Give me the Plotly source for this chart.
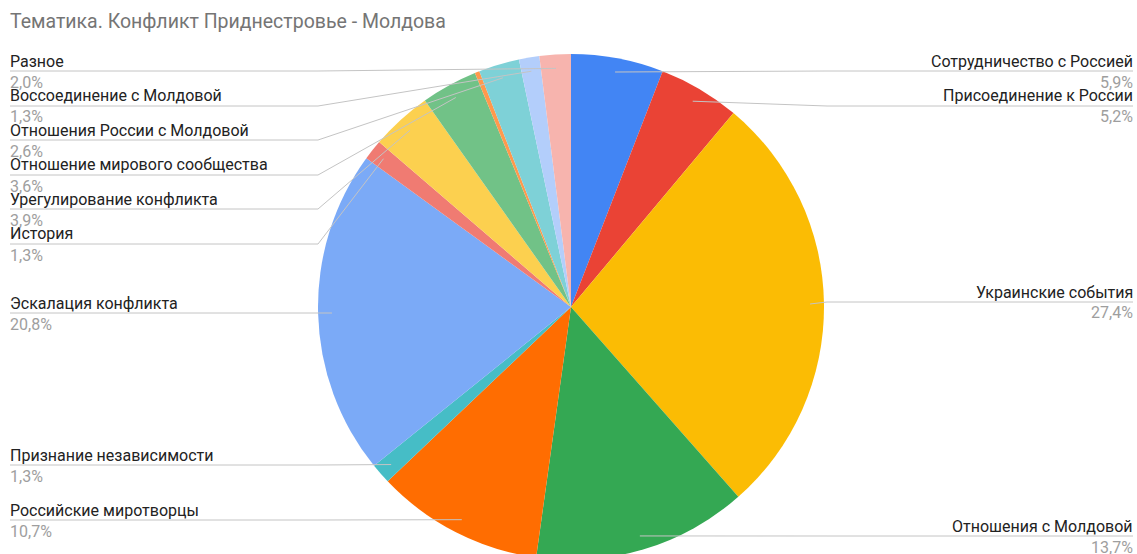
import math
import plotly.graph_objects as go

# ---- data ----
labels = [
    "Сотрудничество с Россией",
    "Присоединение к России",
    "Украинские события",
    "Отношения с Молдовой",
    "Российские миротворцы",
    "Признание независимости",
    "Эскалация конфликта",
    "История",
    "Урегулирование конфликта",
    "Отношение мирового сообщества",
    "Другое",
    "Отношения России с Молдовой",
    "Воссоединение с Молдовой",
    "Разное",
]
values = [5.9, 5.2, 27.4, 13.7, 10.7, 1.3, 20.8, 1.3, 3.9, 3.6, 0.3, 2.6, 1.3, 2.0]
title_text = "Тематика. Конфликт Приднестровье - Молдова"

# ---- styles / layout ----
colors = ["#4285F4", "#EA4335", "#FBBC04", "#34A853", "#FF6D01", "#46BDC6",
          "#7BAAF7", "#F07B72", "#FCD04F", "#71C287", "#FF994D", "#7ED1D7",
          "#B3CEFB", "#F7B4AE"]

# label placement: side and y (px) of the label underline
label_pos = {
    "Сотрудничество с Россией": ("right", 71),
    "Присоединение к России": ("right", 106),
    "Украинские события": ("right", 302),
    "Отношения с Молдовой": ("right", 536),
    "Российские миротворцы": ("left", 520),
    "Признание независимости": ("left", 465),
    "Эскалация конфликта": ("left", 313),
    "История": ("left", 244),
    "Урегулирование конфликта": ("left", 209),
    "Отношение мирового сообщества": ("left", 175),
    "Отношения России с Молдовой": ("left", 140),
    "Воссоединение с Молдовой": ("left", 106),
    "Разное": ("left", 71),
}

# the reference picture is cropped at the bottom: the figure is a bit taller
# than the 554 px window, so the lowest few pixels of the pie fall outside it
W, H = 1137, 560
MT, MB, ML, MR = 54, 0, 0, 0
DOM_X = [0.0044, 1.0]
PH = H - MT - MB
PW = W - ML - MR

cx = ML + PW * (DOM_X[0] + DOM_X[1]) / 2
cy = MT + PH / 2
R = min(PW * (DOM_X[1] - DOM_X[0]), PH) / 2
ANCHOR_R = 0.945 * R

LEFT_X, RIGHT_X = 10, 1133
LEFT_ELBOW, RIGHT_ELBOW = 318, 827
LINE_COLOR = "#c4c4c4"
NAME_COLOR = "#222222"
PCT_COLOR = "#9e9e9e"
FONT = "Roboto, Arial, sans-serif"


def fx(x):
    return (x - ML) / PW


def fy(y):
    return (H - MB - y) / PH


fig = go.Figure()
fig.add_trace(go.Pie(
    labels=labels,
    values=values,
    sort=False,
    direction="clockwise",
    rotation=0,
    marker=dict(colors=colors, line=dict(width=0)),
    textinfo="none",
    hoverinfo="label+percent",
    domain=dict(x=DOM_X, y=[0, 1]),
    showlegend=False,
))

shapes = []
annotations = []
total = sum(values)
cum = 0.0
for lab, v in zip(labels, values):
    mid = (cum + v / 2) / total * 2 * math.pi
    cum += v
    if lab not in label_pos:
        continue
    side, ly = label_pos[lab]
    ax = cx + ANCHOR_R * math.sin(mid)
    ay = cy - ANCHOR_R * math.cos(mid)
    if side == "left":
        ex, end = LEFT_ELBOW, LEFT_X
        xanchor = "left"
    else:
        ex, end = RIGHT_ELBOW, RIGHT_X
        xanchor = "right"
    path = f"M {fx(ax)},{fy(ay)} L {fx(ex)},{fy(ly)} L {fx(end)},{fy(ly)}"
    shapes.append(dict(type="path", xref="paper", yref="paper", path=path,
                       line=dict(color=LINE_COLOR, width=1)))
    pct = f"{v / total * 100:.1f}".replace(".", ",") + "%"
    annotations.append(dict(x=fx(end), y=fy(ly - 10), xref="paper", yref="paper",
                            text=lab, showarrow=False, xanchor=xanchor, yanchor="middle",
                            xshift=(-2 if side == "left" else 2),
                            font=dict(family=FONT, size=16, color=NAME_COLOR)))
    annotations.append(dict(x=fx(end), y=fy(ly + 11), xref="paper", yref="paper",
                            text=pct, showarrow=False, xanchor=xanchor, yanchor="middle",
                            xshift=(-2 if side == "left" else 2),
                            font=dict(family=FONT, size=16, color=PCT_COLOR)))

annotations.append(dict(x=fx(10), y=fy(22), xref="paper", yref="paper",
                        text=title_text, showarrow=False, xanchor="left", yanchor="middle",
                        xshift=-2,
                        font=dict(family=FONT, size=19.5, color="#757575")))

fig.update_layout(
    width=W, height=H,
    margin=dict(l=ML, r=MR, t=MT, b=MB),
    paper_bgcolor="white",
    plot_bgcolor="white",
    shapes=shapes,
    annotations=annotations,
)

fig.write_html("out.html",
               config={"displayModeBar": False},
               post_script="document.body.style.margin='0';document.body.style.overflow='hidden';")
